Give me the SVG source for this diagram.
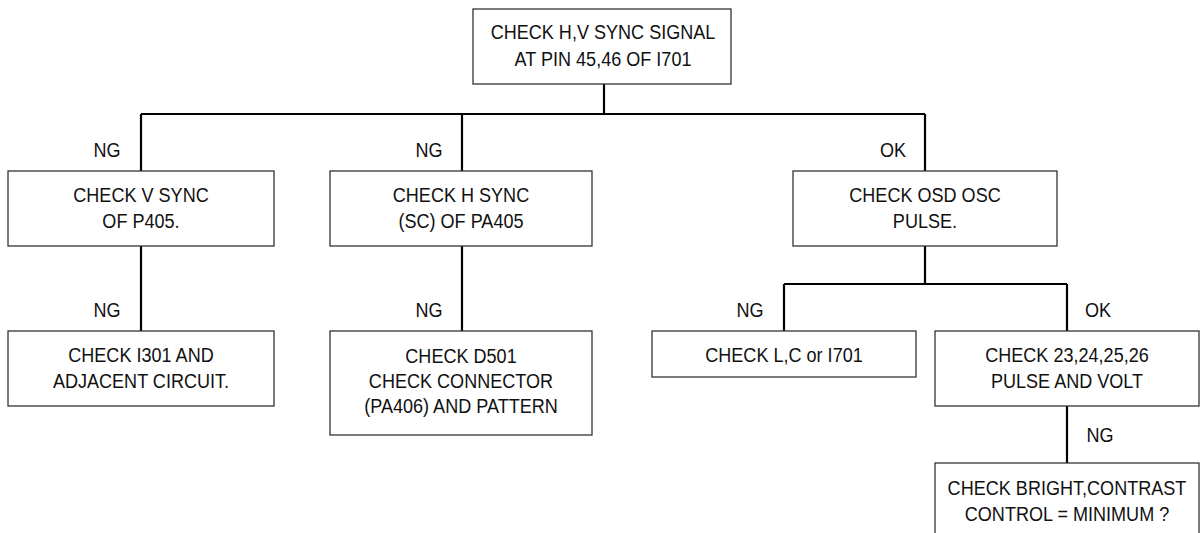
<svg xmlns="http://www.w3.org/2000/svg" width="1202" height="533" viewBox="0 0 1202 533">
<style>
.box{fill:#fff;stroke:#333;stroke-width:1.3}
.t,.lbl{font-family:"Liberation Sans",Arial,sans-serif;font-size:21px;fill:#111;text-anchor:middle;transform-box:fill-box;transform-origin:center;transform:scaleX(0.86)}
.c{fill:none;stroke:#000;stroke-width:2.2}
</style>
<rect width="1202" height="533" fill="#fff"/>
<g id="connectors">
<path class="c" d="M604 84V114M141 114H925M141 114V171M462 114V171M925 114V171"/>
<path class="c" d="M141 246V331M462 246V331M925 246V284M784 284H1067M784 284V331M1067 284V331M1067 406V463"/>
<text class="lbl" x="107" y="157">NG</text>
<text class="lbl" x="429" y="157">NG</text>
<text class="lbl" x="893" y="157">OK</text>
<text class="lbl" x="107" y="317">NG</text>
<text class="lbl" x="429" y="317">NG</text>
<text class="lbl" x="750" y="317">NG</text>
<text class="lbl" x="1098" y="317">OK</text>
<text class="lbl" x="1100" y="442">NG</text>
</g>
<g id="n_top"><rect class="box" x="473" y="9" width="258" height="75"/><text class="t" x="603" y="39">CHECK H,V SYNC SIGNAL</text><text class="t" x="603" y="66">AT PIN 45,46 OF I701</text></g>
<g id="n_vsync"><rect class="box" x="8" y="171" width="266" height="75"/><text class="t" x="141" y="202">CHECK V SYNC</text><text class="t" x="141" y="228">OF P405.</text></g>
<g id="n_hsync"><rect class="box" x="330" y="171" width="262" height="75"/><text class="t" x="461" y="202">CHECK H SYNC</text><text class="t" x="461" y="228">(SC) OF PA405</text></g>
<g id="n_osd"><rect class="box" x="793" y="171" width="264" height="75"/><text class="t" x="925" y="202">CHECK OSD OSC</text><text class="t" x="925" y="228">PULSE.</text></g>
<g id="n_i301"><rect class="box" x="8" y="331" width="266" height="75"/><text class="t" x="141" y="362">CHECK I301 AND</text><text class="t" x="141" y="388">ADJACENT CIRCUIT.</text></g>
<g id="n_d501"><rect class="box" x="330" y="331" width="262" height="104"/><text class="t" x="461" y="363">CHECK D501</text><text class="t" x="461" y="388">CHECK CONNECTOR</text><text class="t" x="461" y="413">(PA406) AND PATTERN</text></g>
<g id="n_lc"><rect class="box" x="652" y="331" width="264" height="46"/><text class="t" x="784" y="362">CHECK L,C or I701</text></g>
<g id="n_pulse"><rect class="box" x="935" y="331" width="264" height="75"/><text class="t" x="1067" y="362">CHECK 23,24,25,26</text><text class="t" x="1067" y="388">PULSE AND VOLT</text></g>
<g id="n_bright"><rect class="box" x="935" y="463" width="264" height="90"/><text class="t" x="1067" y="495">CHECK BRIGHT,CONTRAST</text><text class="t" x="1067" y="521">CONTROL = MINIMUM ?</text></g>
</svg>
